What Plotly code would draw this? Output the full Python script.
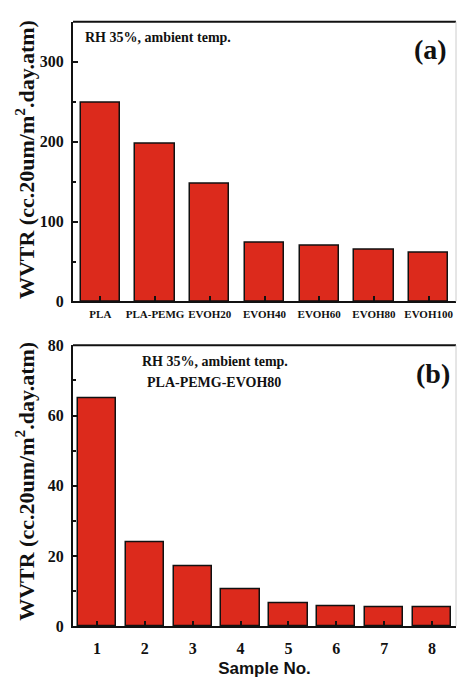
import plotly.graph_objects as go

# Panel (a): WVTR by formulation
materials = ["PLA", "PLA-PEMG", "EVOH20", "EVOH40", "EVOH60", "EVOH80", "EVOH100"]
wvtr_materials = [249, 197.5, 147.5, 74, 69.5, 64.5, 61.5]

# Panel (b): WVTR of PLA-PEMG-EVOH80 samples
samples = [1, 2, 3, 4, 5, 6, 7, 8]
wvtr_samples = [65, 24, 17.1, 10.5, 6.4, 5.7, 5.3, 5.3]

W, H = 457, 680
SERIF = "Liberation Serif"
BAR_COLOR = "#dc2a1c"
INK = "#111111"

fig = go.Figure()

fig.add_trace(go.Bar(
    x=materials, y=wvtr_materials, width=0.72,
    marker=dict(color=BAR_COLOR, line=dict(color=INK, width=1.5)),
    xaxis="x", yaxis="y", showlegend=False,
))
fig.add_trace(go.Bar(
    x=samples, y=wvtr_samples, width=0.8,
    marker=dict(color=BAR_COLOR, line=dict(color=INK, width=1.5)),
    xaxis="x2", yaxis="y2", showlegend=False,
))

x_dom = [73 / W, 456 / W]
top_dom = [1 - 301 / H, 1 - 14 / H]
bot_dom = [1 - 634 / H, 1 - 346 / H]

axis_common = dict(
    showline=True, linecolor=INK, linewidth=2,
    ticks="inside", ticklen=5, tickwidth=1.5, tickcolor=INK,
    showgrid=False, zeroline=False,
)

ytick_font = dict(family=SERIF, size=16, color=INK, weight="bold")

fig.update_layout(
    width=W, height=H,
    margin=dict(l=0, r=0, t=0, b=0),
    paper_bgcolor="white", plot_bgcolor="white",
    bargap=0,
    xaxis=dict(
        domain=x_dom, anchor="y", range=[-0.5, 6.5],
        tickfont=dict(family=SERIF, size=11, color=INK, weight="bold"),
        ticklabelstandoff=1,
        **axis_common,
    ),
    yaxis=dict(
        domain=top_dom, anchor="x", range=[0, 350],
        tickvals=[0, 100, 200, 300],
        minor=dict(tickvals=[50, 150, 250], ticks="inside", ticklen=3,
                   tickcolor=INK, tickwidth=1.5),
        tickfont=ytick_font, ticklabelstandoff=4,
        **axis_common,
    ),
    xaxis2=dict(
        domain=x_dom, anchor="y2", range=[0.5, 8.5],
        tickvals=samples,
        tickfont=dict(family=SERIF, size=16, color=INK, weight="bold"),
        ticklabelstandoff=7,
        title=dict(text="Sample No.", standoff=6,
                   font=dict(family="Liberation Sans", size=17, color=INK,
                             weight="bold")),
        **axis_common,
    ),
    yaxis2=dict(
        domain=bot_dom, anchor="x2", range=[0, 80],
        tickvals=[0, 20, 40, 60, 80],
        minor=dict(tickvals=[10, 30, 50, 70], ticks="inside", ticklen=3,
                   tickcolor=INK, tickwidth=1.5),
        tickfont=ytick_font, ticklabelstandoff=4,
        **axis_common,
    ),
)

# top frame line of each panel, and a faint right edge
for dom in (top_dom, bot_dom):
    fig.add_shape(type="line", xref="paper", yref="paper",
                  x0=x_dom[0], x1=x_dom[1], y0=dom[1], y1=dom[1],
                  line=dict(color=INK, width=2))
    fig.add_shape(type="line", xref="paper", yref="paper",
                  x0=x_dom[1], x1=x_dom[1], y0=dom[0], y1=dom[1],
                  line=dict(color="#cccccc", width=1))

ytitle = "WVTR (cc.20um/m<sup>2</sup>.day.atm)"
title_font = dict(family=SERIF, size=22, color=INK, weight="bold")
label_font = dict(family=SERIF, size=14, color=INK, weight="bold")
panel_font = dict(family=SERIF, size=28, color=INK, weight="bold")


def px_x(v):
    return v / W


def px_y(v):
    return 1 - v / H


annotations = [
    dict(text=ytitle, x=px_x(25), y=px_y(156), textangle=-90, font=title_font),
    dict(text=ytitle, x=px_x(25), y=px_y(486), textangle=-90, font=title_font),
    dict(text="RH 35%, ambient temp.", x=px_x(83), y=px_y(30), xanchor="left",
         font=label_font),
    dict(text="(a)", x=px_x(430), y=px_y(43), font=panel_font),
    dict(text="RH 35%, ambient temp.", x=px_x(215), y=px_y(363), font=label_font),
    dict(text="PLA-PEMG-EVOH80", x=px_x(214), y=px_y(384), font=label_font),
    dict(text="(b)", x=px_x(433), y=px_y(375), font=panel_font),
]
for a in annotations:
    a.update(xref="paper", yref="paper", showarrow=False)
    a.setdefault("xanchor", "center")
    a.setdefault("yanchor", "middle")
fig.update_layout(annotations=annotations)

fig.write_html("out.html")
